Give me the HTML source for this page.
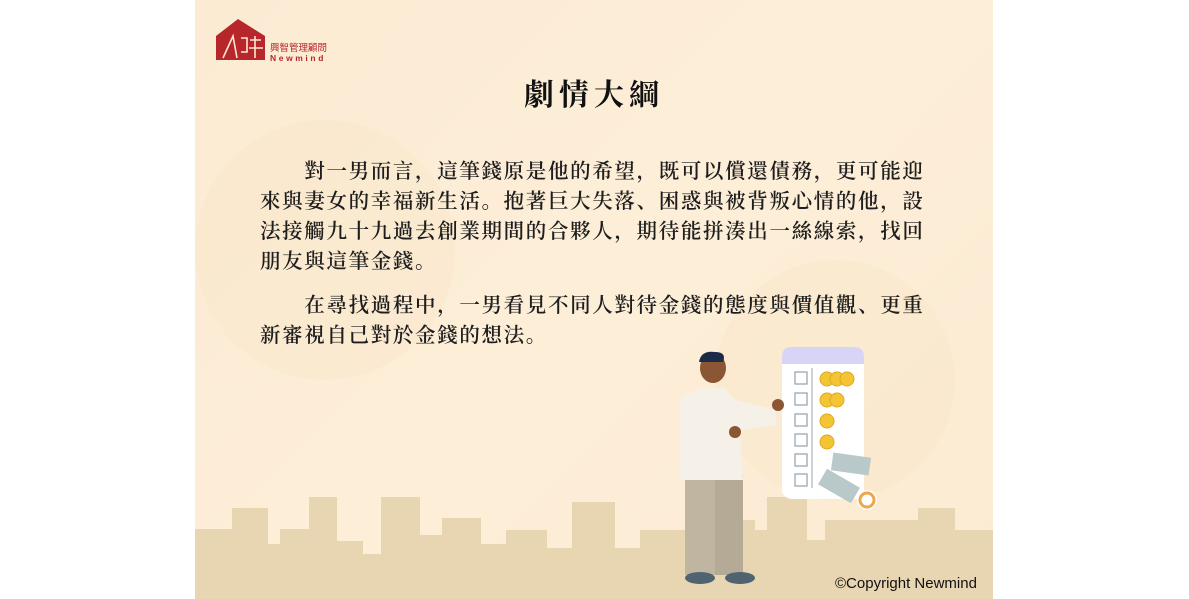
<!DOCTYPE html>
<html><head><meta charset="utf-8">
<style>
html,body{margin:0;padding:0;width:1189px;height:599px;background:#fff;overflow:hidden}
#slide{position:absolute;left:195px;top:0;width:798px;height:599px;background:linear-gradient(135deg,#fcebd3 0%,#fdeed8 50%,#fcebd2 100%);overflow:hidden}
.t{position:absolute;font-family:"Liberation Serif","Noto Serif CJK TC","Noto Serif CJK SC",serif;color:#222;white-space:nowrap}
.line{position:absolute;left:65px;font-size:20.5px;letter-spacing:1.65px;font-weight:600;font-family:"Liberation Serif","Noto Serif CJK SC",serif;color:#1e1e1e;white-space:nowrap}
</style></head><body>
<div id="slide">
<svg width="798" height="599" style="position:absolute;left:0;top:0">
 <g fill="#f7e4c6" opacity="0.35">
  <circle cx="130" cy="250" r="130"/>
  <circle cx="640" cy="380" r="120"/>
 </g>
 <polygon fill="#e8d5b1" points="0,529 37,529 37,508 73,508 73,544 85,544 85,529 114,529 114,497 142,497 142,541 168,541 168,554 186,554 186,497 225,497 225,535 247,535 247,518 286,518 286,544 311,544 311,530 352,530 352,548 377,548 377,502 420,502 420,548 445,548 445,530 500,530 500,520 560,520 560,530 572,530 572,497 612,497 612,540 630,540 630,520 723,520 723,508 760,508 760,530 798,530 798,599 0,599"/>
 <g>
  <polygon points="21,60 21,36 43,19 70,36 70,60" fill="#b7262b"/>
  <path d="M28,58 L38,36 L42,58 M46,38 L52,38 L52,52 L46,52 M55,40 L66,40 M60,36 L60,58 M54,48 L68,48" stroke="#fbe8d0" stroke-width="1.6" fill="none"/>
 </g>
 <g>
  <rect x="587" y="347" width="82" height="152" rx="10" fill="#fff"/>
  <path d="M587,364 L587,357 Q587,347 597,347 L659,347 Q669,347 669,357 L669,364 Z" fill="#d8d4f6"/>
  <line x1="617" y1="368" x2="617" y2="488" stroke="#9aa7b0" stroke-width="1"/>
  <g fill="none" stroke="#9aa7b0" stroke-width="1.3">
   <rect x="600" y="372" width="12" height="12"/><rect x="600" y="393" width="12" height="12"/><rect x="600" y="414" width="12" height="12"/><rect x="600" y="434" width="12" height="12"/><rect x="600" y="454" width="12" height="12"/><rect x="600" y="474" width="12" height="12"/>
  </g>
  <g fill="#f3c533" stroke="#e0a820" stroke-width="1">
   <circle cx="632" cy="379" r="7"/><circle cx="642" cy="379" r="7"/><circle cx="652" cy="379" r="7"/>
   <circle cx="632" cy="400" r="7"/><circle cx="642" cy="400" r="7"/>
   <circle cx="632" cy="421" r="7"/><circle cx="632" cy="442" r="7"/>
  </g>
  <rect x="637" y="455" width="38" height="18" fill="#b9c9c9" transform="rotate(8 656 464)"/>
  <rect x="625" y="477" width="38" height="18" fill="#b9c9c9" transform="rotate(30 644 486)"/>
  <circle cx="672" cy="500" r="10" fill="#fff"/><circle cx="672" cy="500" r="7" fill="none" stroke="#f0a64a" stroke-width="3"/>
 </g>
 <g>
  <rect x="490" y="475" width="30" height="100" fill="#bfb5a0"/>
  <rect x="520" y="475" width="28" height="100" fill="#b4aa95"/>
  <path d="M485,400 Q500,385 530,388 L540,400 L580,410 L582,425 L545,430 L548,480 L485,480 Z" fill="#f5f0e8"/>
  <ellipse cx="518" cy="368" rx="13" ry="15" fill="#8b5634"/>
  <path d="M504,362 Q506,350 520,352 Q532,352 528,362 Z" fill="#1c2a48"/>
  <circle cx="583" cy="405" r="6" fill="#8b5634"/>
  <circle cx="540" cy="432" r="6" fill="#8b5634"/>
  <ellipse cx="505" cy="578" rx="15" ry="6" fill="#4f6470"/>
  <ellipse cx="545" cy="578" rx="15" ry="6" fill="#4f6470"/>
 </g>
</svg>
<div class="t" style="left:75px;top:40px;font-size:9.5px;color:#b7262b;font-family:'Liberation Sans','Noto Sans CJK TC',sans-serif">興智管理顧問</div>
<div class="t" style="left:75px;top:53px;font-size:8.5px;letter-spacing:2.6px;color:#b7262b;font-weight:bold;font-family:'Liberation Sans',sans-serif">Newmind</div>
<div class="t" style="left:0;width:798px;text-align:center;top:70px;font-size:30px;font-weight:bold;letter-spacing:5px;color:#111">劇情大綱</div>
<div>
<div class="line" style="top:154px">　　對一男而言，這筆錢原是他的希望，既可以償還債務，更可能迎</div>
<div class="line" style="top:184px">來與妻女的幸福新生活。抱著巨大失落、困惑與被背叛心情的他，設</div>
<div class="line" style="top:214px">法接觸九十九過去創業期間的合夥人，期待能拼湊出一絲線索，找回</div>
<div class="line" style="top:244px">朋友與這筆金錢。</div>
<div class="line" style="top:288px">　　在尋找過程中，一男看見不同人對待金錢的態度與價值觀、更重</div>
<div class="line" style="top:318px">新審視自己對於金錢的想法。</div>
</div>
<div class="t" style="left:640px;top:575px;font-size:15px;font-family:'Liberation Sans',sans-serif;color:#111">©Copyright Newmind</div>
</div>
</body></html>
